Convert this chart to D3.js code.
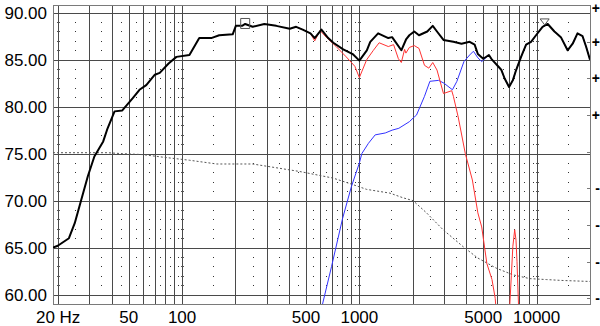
<!DOCTYPE html>
<html>
<head>
<meta charset="utf-8">
<script src="https://cdn.jsdelivr.net/npm/d3@7/dist/d3.min.js"></script>
<style>
  html, body { margin: 0; padding: 0; background: #fff; }
  svg { display: block; font-family: "Liberation Sans", Arial, sans-serif; }
</style>
</head>
<body>
<svg id="chart"></svg>
<script>
'use strict';

// summed response (thick black)
var blackFreq = [18.7, 19.9, 23, 24.8, 27, 29.4, 32, 35.9, 38, 41.6, 46, 52.7, 57.5, 62.8, 70.2, 74.8, 83.9, 92.9,
    110, 125, 146, 162, 193, 201, 218, 227, 250, 291, 340, 405, 440, 479, 530, 560, 611, 667, 713, 811, 917,
    1000, 1102, 1152, 1276, 1456, 1530, 1725, 1839, 1914, 2040, 2170, 2416, 2594, 2741, 2982, 3392, 3770,
    4190, 4470, 4660, 5000, 5380, 5600, 6060, 6330, 6600, 6990, 7340, 7660, 8170, 8720, 9300, 9920, 10800,
    11550, 12600, 13700, 14950, 15970, 17000, 18160, 19000, 20000];
var blackDb = [65.0, 65.2, 66.0, 67.6, 70.1, 72.6, 74.7, 76.3, 77.7, 79.5, 79.6, 80.9, 81.8, 82.3, 83.4, 83.6, 84.6, 85.3,
    85.5, 87.3, 87.3, 87.6, 87.7, 88.6, 88.6, 88.8, 88.5, 88.8, 88.6, 88.3, 88.5, 88.2, 87.8, 87.3, 88.2, 87.3, 86.8, 86.1, 85.6,
    84.9, 86.0, 86.9, 87.8, 87.3, 87.4, 86.0, 87.2, 87.6, 88.0, 87.6, 88.0, 88.6, 88.0, 87.1, 86.9, 86.7,
    86.9, 86.6, 85.6, 85.1, 85.5, 85.0, 84.3, 83.9, 83.0, 82.1, 82.8, 83.9, 85.3, 86.6, 86.9, 87.6, 88.5,
    88.8, 88.0, 87.4, 86.0, 86.7, 87.8, 87.5, 86.4, 85.0];

// woofer branch (red), null = gap
var redFreq = [450, 479, 530, 560, 600, 650, 740, 843, 943, 1000, 1100, 1200, 1293, 1456, 1560, 1660, 1725, 1800,
    1830, 1914, 2040, 2170, 2330, 2465, 2594, 2741, 2982, 3320, 3392, 3610, 3960, 4340, 4660, 4900, 5240,
    5600, 5840, 5950, 6500, 6990, 7200, 7340, 7520, 7650, 7750, 7950];
var redDb = [88.4, 88.2, 87.8, 87.0, 88.1, 87.4, 86.4, 85.3, 84.3, 83.1, 85.0, 86.0, 86.8, 86.4, 86.6, 85.1, 84.7, 86.1,
    85.7, 86.3, 86.5, 86.2, 84.4, 84.1, 84.7, 83.9, 81.4, 81.7, 81.1, 78.9, 75.0, 72.2, 68.7, 67.2, 63.3,
    61.6, 59.6, 57.5, null, 57.5, 62.0, 65.1, 66.9, 65.8, 63.5, 57.5];

// tweeter branch (blue)
var blueFreq = [620, 697, 804, 902, 1000, 1032, 1125, 1228, 1400, 1530, 1670, 1914, 2040, 2100, 2330, 2500, 2800,
    3000, 3350, 3550, 3890, 4190, 4400, 4660, 4900, 5380, 5600, 6060, 6330, 6600, 6990, 7340, 7660, 8170,
    8720, 9300, 9920, 10800, 11550, 12600, 13700, 14950, 15970, 17000, 18160, 19000, 20000];
var blueDb = [59.0, 63.0, 68.1, 71.5, 74.0, 75.0, 76.1, 77.0, 77.2, 77.5, 77.7, 78.4, 78.9, 79.1, 81.1, 82.7, 82.8,
    82.5, 81.8, 82.7, 84.8, 85.5, 85.9, 85.2, 84.8, 85.5, 85.0, 84.3, 83.9, 83.0, 82.1, 82.8, 83.9, 85.3,
    86.6, 86.9, 87.6, 88.5, 88.8, 88.0, 87.4, 86.0, 86.7, 87.8, 87.5, 86.4, 85.0];

// dotted curve
var dotFreq = [18.7, 38, 46, 60, 80, 110, 157, 250, 461, 711, 922, 1098, 1486, 1766, 2009, 2393, 2968, 3850,
    4650, 5940, 7370, 9150, 11370, 14100, 20000];
var dotDb = [75.1, 75.1, 75.0, 74.9, 74.6, 74.3, 73.9, 73.9, 73.1, 72.4, 71.7, 71.2, 70.8, 70.3, 70.0, 68.7, 66.9, 65.1,
    63.9, 62.8, 62.1, 61.7, 61.6, 61.5, 61.4];

var markerFreq = [227, 11100];
var markerDb = [88.8, 88.7];
var markerShape = ['square', 'triangle'];

var xTickValues = [20, 50, 100, 500, 1000, 5000, 10000];
var xTickLabels = ['20 Hz', '50', '100', '500', '1000', '5000', '10000'];
var yTickValues = [60, 65, 70, 75, 80, 85, 90];
var yTickLabels = ['60.00', '65.00', '70.00', '75.00', '80.00', '85.00', '90.00'];
// right-hand scale: only the sign of each label shows at the picture's edge
var rightTickValues = [40, 30, 20, 10, 0, -10, -20, -30, -40];
var rightTickLabels = ['+', '+', '+', '+', '', '-', '-', '-', '-'];

var config = {
    width: 600,
    height: 326,
    left: 53,
    right: 590,
    top: 5,
    bottom: 304,
    fMin: 18.7,
    fMax: 20000,
    dbMin: 59.0,
    dbMax: 90.82,
    rightBottom: 298.3,
    fontSize: 17,
    gridColor: '#4a4a4a',
    borderColor: '#7a7a7a'
};

function zip(fs, vs) {
    return fs.map(function(f, i) { return { f: f, v: vs[i] }; });
}

function render() {
    var svg = d3.select('#chart')
        .attr('width', config.width)
        .attr('height', config.height);

    var x = d3.scaleLog().domain([config.fMin, config.fMax]).range([config.left, config.right]);
    var y = d3.scaleLinear().domain([config.dbMin, config.dbMax]).range([config.bottom, config.top]);
    var yR = d3.scaleLinear().domain([-40, 40]).range([config.rightBottom, config.top]);

    svg.append('rect')
        .attr('width', config.width)
        .attr('height', config.height)
        .attr('fill', '#fff');

    svg.append('clipPath').attr('id', 'plot-clip')
        .append('rect')
        .attr('x', config.left)
        .attr('y', config.top)
        .attr('width', config.right - config.left)
        .attr('height', config.bottom - config.top);

    // grid frequencies: 20..10000 at 1-2-3.. steps
    var gridFreqs = [];
    [10, 100, 1000, 10000].forEach(function(d) {
        for (var k = 1; k <= 9; k++) {
            var f = k * d;
            if (f >= 20 && f <= 10000) gridFreqs.push(f);
        }
    });
    var edges = gridFreqs.concat([20000]);
    var midFreqs = d3.pairs(edges).map(function(p) { return (p[0] + p[1]) / 2; });
    var minorDb = d3.range(61, 90).filter(function(v) { return v % 5 !== 0; });

    var grid = svg.append('g').attr('shape-rendering', 'crispEdges');

    grid.selectAll('line.h')
        .data(yTickValues)
        .enter()
        .append('line')
        .attr('class', 'h')
        .attr('x1', config.left)
        .attr('x2', config.right)
        .attr('y1', function(d) { return Math.round(y(d)) + 0.5; })
        .attr('y2', function(d) { return Math.round(y(d)) + 0.5; })
        .attr('stroke', config.gridColor);

    grid.selectAll('line.v')
        .data(gridFreqs)
        .enter()
        .append('line')
        .attr('class', 'v')
        .attr('x1', function(d) { return Math.round(x(d)) + 0.5; })
        .attr('x2', function(d) { return Math.round(x(d)) + 0.5; })
        .attr('y1', config.top)
        .attr('y2', config.bottom)
        .attr('stroke', config.gridColor);

    // dotted minor grid
    var dots = [];
    minorDb.forEach(function(v) {
        midFreqs.forEach(function(f) { dots.push({ f: f, v: v }); });
    });
    grid.selectAll('rect.dot')
        .data(dots)
        .enter()
        .append('rect')
        .attr('class', 'dot')
        .attr('x', function(d) { return Math.round(x(d.f)); })
        .attr('y', function(d) { return Math.round(y(d.v)); })
        .attr('width', 1)
        .attr('height', 1)
        .attr('fill', '#333');

    // short ticks on decade lines
    var decTicks = [];
    minorDb.forEach(function(v) {
        [20, 100, 1000, 10000].forEach(function(f) { decTicks.push({ f: f, v: v }); });
    });
    grid.selectAll('rect.dec')
        .data(decTicks)
        .enter()
        .append('rect')
        .attr('class', 'dec')
        .attr('x', function(d) { return Math.round(x(d.f)) - 1; })
        .attr('y', function(d) { return Math.round(y(d.v)); })
        .attr('width', 3)
        .attr('height', 1)
        .attr('fill', '#555');

    grid.append('rect')
        .attr('x', config.left + 0.5)
        .attr('y', config.top + 0.5)
        .attr('width', config.right - config.left)
        .attr('height', config.bottom - config.top)
        .attr('fill', 'none')
        .attr('stroke', config.borderColor);

    // right axis ticks
    grid.selectAll('line.rt')
        .data(rightTickValues)
        .enter()
        .append('line')
        .attr('class', 'rt')
        .attr('x1', config.right - 3)
        .attr('x2', config.right + 1)
        .attr('y1', function(d) { return Math.round(yR(d)) + 0.5; })
        .attr('y2', function(d) { return Math.round(yR(d)) + 0.5; })
        .attr('stroke', config.borderColor);

    var line = d3.line()
        .defined(function(d) { return d.v !== null; })
        .x(function(d) { return x(d.f); })
        .y(function(d) { return y(d.v); });

    var curves = svg.append('g').attr('clip-path', 'url(#plot-clip)');

    curves.append('path')
        .datum(zip(dotFreq, dotDb))
        .attr('d', line)
        .attr('fill', 'none')
        .attr('stroke', '#555')
        .attr('stroke-width', 1)
        .attr('stroke-dasharray', '2,2');

    curves.append('path')
        .datum(zip(blueFreq, blueDb))
        .attr('d', line)
        .attr('fill', 'none')
        .attr('stroke', '#3232ff')
        .attr('stroke-width', 1);

    curves.append('path')
        .datum(zip(redFreq, redDb))
        .attr('d', line)
        .attr('fill', 'none')
        .attr('stroke', '#ff3232')
        .attr('stroke-width', 1);

    curves.append('path')
        .datum(zip(blackFreq, blackDb))
        .attr('d', line)
        .attr('fill', 'none')
        .attr('stroke', '#000')
        .attr('stroke-width', 2)
        .attr('stroke-linejoin', 'round');

    // markers
    var marks = zip(markerFreq, markerDb).map(function(d, i) { d.shape = markerShape[i]; return d; });
    svg.selectAll('path.marker')
        .data(marks)
        .enter()
        .append('path')
        .attr('class', 'marker')
        .attr('transform', function(d) { return 'translate(' + x(d.f) + ',' + y(d.v) + ')'; })
        .attr('d', function(d) {
            if (d.shape === 'square') return 'M-4.5,-5.5H4.5V4.5H-4.5Z';
            return 'M-4.5,-6H4.5L0,0Z';
        })
        .attr('fill', 'none')
        .attr('stroke', '#555')
        .attr('stroke-width', 1);

    // labels
    svg.selectAll('text.ylab')
        .data(yTickValues)
        .enter()
        .append('text')
        .attr('class', 'ylab')
        .attr('x', 47)
        .attr('y', function(d) { return y(d); })
        .attr('dy', '0.36em')
        .attr('text-anchor', 'end')
        .attr('font-size', config.fontSize)
        .attr('fill', '#000')
        .text(function(d, i) { return yTickLabels[i]; });

    svg.selectAll('text.xlab')
        .data(xTickValues)
        .enter()
        .append('text')
        .attr('class', 'xlab')
        .attr('x', function(d) { return x(d); })
        .attr('y', 323)
        .attr('text-anchor', 'middle')
        .attr('font-size', config.fontSize)
        .attr('fill', '#000')
        .text(function(d, i) { return xTickLabels[i]; });

    svg.selectAll('text.rlab')
        .data(rightTickValues)
        .enter()
        .append('text')
        .attr('class', 'rlab')
        .attr('x', 600)
        .attr('y', function(d) { return Math.max(yR(d), 8); })
        .attr('dy', '0.36em')
        .attr('text-anchor', 'end')
        .attr('font-size', 14)
        .attr('font-weight', 'bold')
        .attr('fill', '#000')
        .text(function(d, i) { return rightTickLabels[i]; });
}

render();
</script>
</body>
</html>
